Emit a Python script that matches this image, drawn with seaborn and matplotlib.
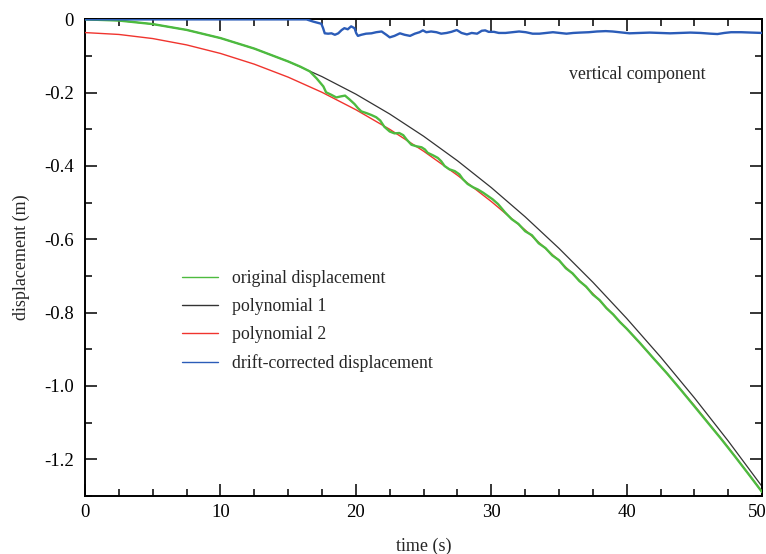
import matplotlib
matplotlib.use("Agg")
import matplotlib.pyplot as plt
import matplotlib.transforms as mtransforms
import seaborn as sns
from matplotlib.ticker import MultipleLocator

# ---------------- data ----------------
t_poly = [0, 2.5, 5, 7.5, 10, 12.5, 15, 17.5, 20, 22.5, 25, 27.5, 30, 32.5, 35,
          37.5, 40, 42.5, 45, 47.5, 50]
poly1 = [0, -0.0032, -0.0128, -0.0287, -0.051, -0.0797, -0.1148, -0.1562, -0.204,
         -0.2582, -0.3188, -0.3857, -0.459, -0.5387, -0.6248, -0.7172, -0.816,
         -0.9212, -1.0328, -1.1507, -1.275]
poly2 = [-0.036, -0.0411, -0.0523, -0.0696, -0.0929, -0.1222, -0.1576, -0.1990,
         -0.2465, -0.3000, -0.3596, -0.4253, -0.4970, -0.5747, -0.6585, -0.7483,
         -0.8442, -0.9461, -1.0541, -1.1682, -1.2893]

t_orig = [0, 2.5, 5, 7.5, 10, 12.5, 15, 15.9, 16.6, 17.1, 17.6, 17.8, 18.2, 18.55,
          18.9, 19.2, 19.55, 19.9, 20.15, 20.4, 20.8, 21.15, 21.5, 21.8, 22.1, 22.5,
          22.85, 23.2, 23.5, 23.75, 24.1, 24.45, 24.85, 25.1, 25.3, 25.7, 26.05, 26.3,
          26.55, 26.9, 27.3, 27.65, 27.9, 28.25, 28.65, 29.0, 29.4, 29.75, 30.1, 30.5,
          31, 31.5, 32, 32.5, 33, 33.5, 34, 34.5, 35, 35.5, 36, 36.5, 37, 37.5, 38,
          38.5, 39, 39.5, 40, 41, 42, 43, 44, 45, 46, 47, 48, 49, 50]
orig = [0, -0.0032, -0.0128, -0.0287, -0.051, -0.0797, -0.1148, -0.129, -0.142,
        -0.161, -0.183, -0.199, -0.206, -0.213, -0.210, -0.208, -0.219, -0.231,
        -0.242, -0.251, -0.256, -0.261, -0.267, -0.276, -0.293, -0.306, -0.311,
        -0.310, -0.316, -0.328, -0.342, -0.346, -0.349, -0.355, -0.364, -0.371,
        -0.378, -0.387, -0.400, -0.409, -0.414, -0.423, -0.436, -0.449, -0.458,
        -0.464, -0.473, -0.482, -0.491, -0.504, -0.526, -0.545, -0.558, -0.578,
        -0.589, -0.611, -0.624, -0.644, -0.657, -0.679, -0.693, -0.714, -0.729,
        -0.751, -0.766, -0.788, -0.805, -0.826, -0.844, -0.884, -0.926, -0.967,
        -1.011, -1.056, -1.101, -1.146, -1.193, -1.241, -1.290]

t_corr = [0, 15, 16.35, 16.85, 17.45, 17.58, 17.7, 17.95, 18.2, 18.45, 18.7, 18.95,
          19.15, 19.4, 19.65, 19.9, 20.03, 20.15, 20.4, 20.75, 21.15, 21.5, 21.9,
          22.25, 22.5, 22.85, 23.25, 23.6, 24.0, 24.35, 24.7, 24.95, 25.2, 25.55,
          25.95, 26.3, 26.7, 27.05, 27.45, 27.8, 28.2, 28.55, 28.95, 29.3, 29.55,
          29.8, 30.2, 30.55, 31.05, 31.55, 32.05, 32.55, 33.05, 33.55, 34.05, 34.55,
          35.05, 35.55, 36.05, 36.55, 37.2, 37.8, 38.45, 38.95, 39.45, 40.2, 40.95,
          41.7, 42.45, 43.2, 43.95, 44.7, 45.45, 46.2, 46.7, 47.2, 47.7, 48.45, 49.2,
          50]
corr = [0, 0, 0, -0.006, -0.012, -0.024, -0.038, -0.039, -0.038, -0.042, -0.038,
        -0.029, -0.024, -0.027, -0.019, -0.024, -0.038, -0.045, -0.042, -0.039,
        -0.038, -0.035, -0.033, -0.042, -0.049, -0.045, -0.038, -0.042, -0.045,
        -0.039, -0.035, -0.030, -0.035, -0.033, -0.035, -0.039, -0.037, -0.034,
        -0.029, -0.037, -0.041, -0.037, -0.039, -0.031, -0.030, -0.034, -0.034,
        -0.037, -0.037, -0.035, -0.033, -0.035, -0.039, -0.039, -0.037, -0.035,
        -0.037, -0.039, -0.037, -0.036, -0.035, -0.033, -0.032, -0.033, -0.035,
        -0.038, -0.037, -0.036, -0.037, -0.038, -0.037, -0.036, -0.037, -0.039,
        -0.040, -0.037, -0.035, -0.035, -0.036, -0.037]

x_ticks = [0, 10, 20, 30, 40, 50]
x_tick_labels = ["0", "10", "20", "30", "40", "50"]
y_ticks = [0, -0.2, -0.4, -0.6, -0.8, -1.0, -1.2]
y_tick_labels = ["0", "-0.2", "-0.4", "-0.6", "-0.8", "-1.0", "-1.2"]

labels = ["original displacement", "polynomial 1", "polynomial 2",
          "drift-corrected displacement"]
colors = ["#4dbb3f", "#333333", "#f0342e", "#2b5cb8"]

# ---------------- style ----------------
sns.set_theme(style="ticks")
plt.rcParams["font.family"] = ["Liberation Serif", "DejaVu Serif"]
plt.rcParams["axes.unicode_minus"] = False

fig = plt.figure(figsize=(7.66, 5.54), dpi=100)
ax = fig.add_axes([0.111, 0.105, 0.884, 0.86])

sns.lineplot(x=t_orig, y=orig, ax=ax, color=colors[0], lw=1.7, label=labels[0],
             sort=False, estimator=None, zorder=4)
sns.lineplot(x=t_poly, y=poly1, ax=ax, color=colors[1], lw=0.9, label=labels[1],
             sort=False, estimator=None, zorder=2)
sns.lineplot(x=t_poly, y=poly2, ax=ax, color=colors[2], lw=1.0, label=labels[2],
             sort=False, estimator=None, zorder=3)
sns.lineplot(x=t_corr, y=corr, ax=ax, color=colors[3], lw=1.7, label=labels[3],
             sort=False, estimator=None, zorder=5)

ax.set_xlim(0, 50)
ax.set_ylim(-1.3, 0)
ax.set_xticks(x_ticks)
ax.set_xticklabels(x_tick_labels)
ax.set_yticks(y_ticks)
ax.set_yticklabels(y_tick_labels)
ax.xaxis.set_minor_locator(MultipleLocator(2.5))
ax.yaxis.set_minor_locator(MultipleLocator(0.1))
ax.tick_params(which="both", direction="in", top=True, right=True,
               colors="black", labelsize=13.5, width=1.1)
ax.tick_params(which="major", length=8.5)
ax.tick_params(which="minor", length=5)
ax.tick_params(axis="x", pad=6)
ax.tick_params(axis="y", pad=8)
for s in ax.spines.values():
    s.set_linewidth(1.4)
    s.set_color("black")

# keep the last x tick label inside the canvas
last = ax.get_xticklabels()[-1]
last.set_transform(last.get_transform() +
                   mtransforms.ScaledTranslation(-5 / 100, 0, fig.dpi_scale_trans))

ax.set_xlabel("time (s)", fontsize=13, labelpad=12)
ax.set_ylabel("displacement (m)", fontsize=13, labelpad=10)

ax.text(0.715, 0.885, "vertical component", transform=ax.transAxes,
        fontsize=12.8, ha="left", va="center")

leg = ax.legend(loc="upper left", bbox_to_anchor=(0.12, 0.508), frameon=False,
                fontsize=12.8, handlelength=2.0, handletextpad=0.8,
                labelspacing=0.62)
for line in leg.get_lines():
    line.set_linewidth(1.0)

fig.savefig("out.png", dpi=100)
